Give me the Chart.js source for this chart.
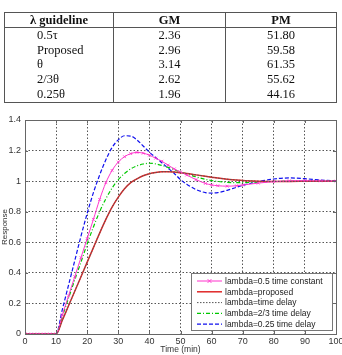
<!DOCTYPE html>
<html>
<head>
<meta charset="utf-8">
<script src="https://cdn.jsdelivr.net/npm/chart.js@4.4.0/dist/chart.umd.min.js"></script>
<style>
  body { margin: 0; background: #fff; }
  #wrap { position: relative; width: 342px; height: 355px; }
  #chart { position: absolute; left: 0; top: 0; }
  #tbl {
    position: absolute; left: 4px; top: 12px; width: 332px;
    border-collapse: collapse; table-layout: fixed;
    font-family: "Liberation Serif", "Times New Roman", serif;
    font-size: 12.5px; color: #111;
    border: 1px solid #555;
  }
  #tbl th, #tbl td { padding: 0; border-left: 1px solid #555; border-right: 1px solid #555; }
  #tbl th { height: 14px; line-height: 14px; border-bottom: 1px solid #555; }
  #tbl td { height: 14.7px; line-height: 14.7px; text-align: center; }
  #tbl td.name { text-align: left; padding-left: 32px; }
</style>
</head>
<body>
<div id="wrap">
  <canvas id="chart" width="342" height="355"></canvas>
  <table id="tbl">
    <colgroup><col style="width:109px"><col style="width:112px"><col style="width:111px"></colgroup>
    <thead><tr><th>λ guideline</th><th>GM</th><th>PM</th></tr></thead>
    <tbody id="tbody"></tbody>
  </table>
</div>
<script>
// table data
const guidelines = ['0.5τ', 'Proposed', 'θ', '2/3θ', '0.25θ'];
const gainMargin = ['2.36', '2.96', '3.14', '2.62', '1.96'];
const phaseMargin = ['51.80', '59.58', '61.35', '55.62', '44.16'];

// step response data (time in min)
const time = [0, 2, 4, 6, 8, 10, 12, 14, 16, 18, 20, 22, 24, 26, 28, 30, 32, 34, 36, 38, 40,
  42, 44, 46, 48, 50, 52, 55, 58, 60, 62, 65, 68, 70, 75, 80, 85, 90, 95, 100];
const halfTimeConstant = [0, 0, 0, 0, 0, 0, 0.125, 0.25, 0.375, 0.5, 0.625, 0.75, 0.88, 0.99, 1.07, 1.125, 1.16, 1.18, 1.188, 1.183, 1.17,
  1.15, 1.13, 1.105, 1.08, 1.06, 1.04, 1.01, 0.985, 0.975, 0.97, 0.967, 0.97, 0.975, 0.987, 0.997, 1.002, 1.003, 1.002, 1.0];
const proposed = [0, 0, 0, 0, 0, 0, 0.09, 0.185, 0.28, 0.375, 0.47, 0.565, 0.66, 0.75, 0.83, 0.895, 0.95, 0.99, 1.015, 1.035, 1.048,
  1.056, 1.061, 1.062, 1.06, 1.055, 1.05, 1.041, 1.032, 1.026, 1.02, 1.013, 1.007, 1.004, 1.0, 0.998, 0.998, 0.999, 1.0, 1.0];
const timeDelay = [0, 0, 0, 0, 0, 0, 0.09, 0.185, 0.28, 0.375, 0.47, 0.565, 0.66, 0.75, 0.83, 0.895, 0.95, 0.99, 1.015, 1.035, 1.048,
  1.056, 1.061, 1.062, 1.06, 1.055, 1.05, 1.041, 1.032, 1.026, 1.02, 1.013, 1.007, 1.004, 1.0, 0.998, 0.998, 0.999, 1.0, 1.0];
const twoThirdsDelay = [0, 0, 0, 0, 0, 0, 0.115, 0.235, 0.355, 0.47, 0.59, 0.7, 0.8, 0.885, 0.955, 1.01, 1.05, 1.08, 1.1, 1.112, 1.117,
  1.113, 1.103, 1.09, 1.075, 1.06, 1.047, 1.028, 1.012, 1.004, 0.998, 0.992, 0.99, 0.99, 0.994, 0.998, 1.0, 1.001, 1.0, 1.0];
const quarterDelay = [0, 0, 0, 0, 0, 0, 0.16, 0.32, 0.48, 0.64, 0.79, 0.925, 1.04, 1.14, 1.22, 1.27, 1.297, 1.295, 1.27, 1.23, 1.19,
  1.155, 1.12, 1.085, 1.05, 1.01, 0.98, 0.945, 0.925, 0.922, 0.925, 0.94, 0.96, 0.972, 0.997, 1.014, 1.021, 1.016, 1.007, 1.002];

const xTicks = [0, 10, 20, 30, 40, 50, 60, 70, 80, 90, 100];
const yTicks = [0, 0.2, 0.4, 0.6, 0.8, 1, 1.2, 1.4];

// fill the table
const tbody = document.getElementById('tbody');
guidelines.forEach((g, i) => {
  const tr = document.createElement('tr');
  tr.innerHTML = '<td class="name">' + g + '</td><td>' + gainMargin[i] + '</td><td>' + phaseMargin[i] + '</td>';
  tbody.appendChild(tr);
});

function toPoints(values) {
  return time.map((t, i) => ({ x: t, y: values[i] }));
}

Chart.defaults.font.family = '"Liberation Sans", Arial, sans-serif';
Chart.defaults.color = '#333';

// MATLAB style box, inner ticks and legend
const matlabFrame = {
  id: 'matlabFrame',
  afterDraw(chart) {
    const ctx = chart.ctx;
    const a = chart.chartArea;
    const xs = chart.scales.x, ys = chart.scales.y;
    ctx.save();
    ctx.strokeStyle = '#666';
    ctx.lineWidth = 1;
    ctx.beginPath();
    xTicks.forEach(v => {
      const px = Math.round(xs.getPixelForValue(v)) + 0.5;
      ctx.moveTo(px, a.bottom); ctx.lineTo(px, a.bottom - 3);
      ctx.moveTo(px, a.top); ctx.lineTo(px, a.top + 3);
    });
    yTicks.forEach(v => {
      const py = Math.round(ys.getPixelForValue(v)) + 0.5;
      ctx.moveTo(a.left, py); ctx.lineTo(a.left + 3, py);
      ctx.moveTo(a.right, py); ctx.lineTo(a.right - 3, py);
    });
    ctx.stroke();
    ctx.strokeRect(Math.round(a.left) + 0.5, Math.round(a.top) + 0.5,
      Math.round(a.right - a.left), Math.round(a.bottom - a.top));

    // legend
    const w = 141, h = 57;
    const bx = Math.round(a.right) - 4 - w, by = Math.round(a.bottom) - 4 - h;
    ctx.fillStyle = '#fff';
    ctx.fillRect(bx, by, w, h);
    ctx.strokeStyle = '#777';
    ctx.strokeRect(bx + 0.5, by + 0.5, w, h);
    ctx.font = '8.5px "Liberation Sans", Arial, sans-serif';
    ctx.textBaseline = 'middle';
    chart.data.datasets.forEach((ds, i) => {
      const ly = by + 8 + i * 10.8;
      ctx.beginPath();
      ctx.setLineDash(ds.borderDash || []);
      ctx.strokeStyle = ds.borderColor;
      ctx.lineWidth = ds.borderWidth;
      ctx.moveTo(bx + 6, ly); ctx.lineTo(bx + 31, ly);
      ctx.stroke();
      ctx.setLineDash([]);
      if (ds.pointRadius > 0) {
        ctx.lineWidth = 0.8;
        ctx.beginPath();
        ctx.moveTo(bx + 16.5, ly - 2); ctx.lineTo(bx + 20.5, ly + 2);
        ctx.moveTo(bx + 20.5, ly - 2); ctx.lineTo(bx + 16.5, ly + 2);
        ctx.stroke();
      }
      ctx.fillStyle = '#222';
      ctx.fillText(ds.label, bx + 34, ly + 0.5);
    });
    ctx.restore();
  }
};

new Chart(document.getElementById('chart'), {
  type: 'line',
  data: {
    datasets: [
      { label: 'lambda=0.5 time constant', data: toPoints(halfTimeConstant), borderColor: '#ff33cc', borderWidth: 1,
        pointStyle: 'crossRot', pointRadius: 2, pointBorderColor: '#ff33cc', pointBorderWidth: 0.8, order: 1 },
      { label: 'lambda=proposed', data: toPoints(proposed), borderColor: '#e02828', borderWidth: 1.5, pointRadius: 0, order: 2 },
      { label: 'lambda=time delay', data: toPoints(timeDelay), borderColor: '#555', borderWidth: 1, borderDash: [1.5, 1.5], pointRadius: 0, order: 0 },
      { label: 'lambda=2/3 time delay', data: toPoints(twoThirdsDelay), borderColor: '#00c800', borderWidth: 1.2,
        borderDash: [4, 2, 1, 2], pointRadius: 0, order: 3 },
      { label: 'lambda=0.25 time delay', data: toPoints(quarterDelay), borderColor: '#1010ee', borderWidth: 1.2,
        borderDash: [4, 2], pointRadius: 0, order: 4 }
    ]
  },
  options: {
    responsive: false,
    animation: false,
    devicePixelRatio: 1,
    cubicInterpolationMode: 'monotone',
    layout: { padding: { top: 120, right: 6, left: 0, bottom: 0 } },
    plugins: { legend: { display: false }, tooltip: { enabled: false } },
    scales: {
      x: {
        type: 'linear', min: 0, max: 100,
        afterBuildTicks: s => { s.ticks = xTicks.map(v => ({ value: v })); },
        afterFit: s => { s.height = 21; s.paddingLeft = 0; s.paddingRight = 0; },
        ticks: { font: { size: 9 }, padding: 2, maxRotation: 0 },
        grid: { color: '#555', drawTicks: false },
        border: { display: false, dash: [1.5, 2] },
        title: { display: true, text: 'Time (min)', font: { size: 8.5 }, padding: 0 }
      },
      y: {
        min: 0, max: 1.4,
        afterBuildTicks: s => { s.ticks = yTicks.map(v => ({ value: v })); },
        afterFit: s => { s.width = 25; },
        ticks: { font: { size: 9 }, padding: 4, callback: v => String(v) },
        grid: { color: '#555', drawTicks: false },
        border: { display: false, dash: [1.5, 2] },
        title: { display: true, text: 'Response', font: { size: 8 }, padding: 0 }
      }
    }
  },
  plugins: [matlabFrame]
});
</script>
</body>
</html>
